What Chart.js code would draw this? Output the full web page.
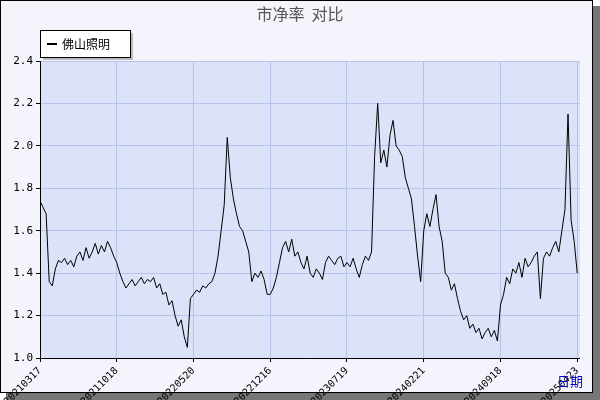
<!DOCTYPE html>
<html><head><meta charset="utf-8">
<script src="https://cdn.jsdelivr.net/npm/chart.js@4"></script>
<style>body{margin:0;background:#fff}#w{width:600px;height:400px;position:relative}</style>
</head><body><div id="w"><canvas id="c" width="600" height="400"></canvas></div>
<script>
const tickLabels=["20210317","20211018","20220520","20221216","20230719","20240221","20240918","20250423"];
const yTicks=[1.0,1.2,1.4,1.6,1.8,2.0,2.2,2.4];
const seriesName="佛山照明";
const pbValues=[
1.74,1.71,1.68,1.36,1.34,1.42,1.46,1.45,1.47,1.44,1.46,1.43,1.48,1.50,1.46,1.52,1.47,1.50,1.54,1.49,1.53,1.50,1.55,1.52,1.48,
1.45,1.40,1.36,1.33,1.35,1.37,1.34,1.36,1.38,1.35,1.37,1.36,1.38,1.33,1.35,1.30,1.31,1.25,1.27,1.20,1.15,1.18,1.10,1.05,1.28,
1.30,1.32,1.31,1.34,1.33,1.35,1.36,1.40,1.48,1.60,1.72,2.04,1.85,1.75,1.68,1.62,1.60,1.55,1.50,1.36,1.40,1.38,1.41,1.37,1.30,
1.30,1.33,1.38,1.45,1.52,1.55,1.50,1.56,1.48,1.50,1.45,1.42,1.48,1.40,1.38,1.42,1.40,1.37,1.45,1.48,1.46,1.44,1.47,1.48,1.43,
1.45,1.43,1.47,1.42,1.38,1.44,1.48,1.46,1.50,1.95,2.20,1.92,1.98,1.90,2.05,2.12,2.00,1.98,1.95,1.85,1.80,1.75,1.62,1.48,1.36,
1.60,1.68,1.62,1.70,1.77,1.62,1.55,1.40,1.38,1.32,1.35,1.28,1.22,1.18,1.20,1.14,1.16,1.12,1.14,1.09,1.12,1.14,1.10,1.13,1.08,
1.25,1.30,1.38,1.35,1.42,1.40,1.45,1.38,1.47,1.43,1.45,1.48,1.50,1.28,1.47,1.50,1.48,1.52,1.55,1.50,1.60,1.70,2.15,1.65,1.55,
1.40];
const step=25;
const pts=pbValues.map((v,i)=>({x:i,y:v}));
const deco={id:'deco',
 beforeDraw(ch){const c=ch.ctx,a=ch.chartArea;c.save();
  c.fillStyle='#fff';c.fillRect(0,0,600,400);
  c.fillStyle='#777';c.fillRect(6,6,594,394);
  c.fillStyle='#f4f5fc';c.fillRect(0,0,593,393);
  c.strokeStyle='#000';c.lineWidth=1;c.strokeRect(0.5,0.5,592,392);
  c.fillStyle='#dce2f7';c.fillRect(a.left,a.top,a.right-a.left,a.bottom-a.top);
  c.restore();},
 afterDraw(ch){const c=ch.ctx,a=ch.chartArea;c.save();
  c.strokeStyle='#000';c.lineWidth=1;c.beginPath();c.moveTo(a.left+0.5,a.top);c.lineTo(a.left+0.5,a.bottom+0.5);c.lineTo(a.right,a.bottom+0.5);c.stroke();
  c.fillStyle='#555';c.font='16px "Noto Sans CJK SC"';c.textAlign='center';c.textBaseline='middle';c.fillText('市净率  对比',300,14);
  c.fillStyle='#bbb';c.fillRect(43,33,90,27);
  c.fillStyle='#fff';c.fillRect(40,30,90,27);c.strokeStyle='#000';c.strokeRect(40.5,30.5,90,27);
  c.fillStyle='#000';c.fillRect(47,43,10,2);
  c.font='12px "Noto Sans CJK SC"';c.textAlign='left';c.fillText(seriesName,62,44);
  c.fillStyle='#0000cc';c.font='13px "Noto Sans CJK SC"';c.textAlign='left';c.fillText('日期',557,381);
  c.restore();}};
new Chart(document.getElementById('c'),{type:'line',
 data:{datasets:[{label:seriesName,data:pts,borderColor:'#000',borderWidth:1,pointRadius:0,tension:0,fill:false}]},
 plugins:[deco],
 options:{responsive:false,animation:false,events:[],
  layout:{padding:{top:61,right:20,left:0,bottom:0}},
  plugins:{legend:{display:false},tooltip:{enabled:false}},
  scales:{
   x:{type:'linear',min:0,max:pbValues.length-1+0.9,afterFit(s){s.height=42;},
    afterBuildTicks(s){s.ticks=tickLabels.map((l,i)=>({value:i*step}));},
    grid:{color:'#b7c3ea',drawTicks:true,tickLength:4,tickColor:'#000'},border:{display:false},
    ticks:{autoSkip:false,maxRotation:45,minRotation:45,color:'#000',font:{family:'DejaVu Sans Mono',size:10},
     callback:(v)=>tickLabels[Math.round(v/step)]}},
   y:{min:1.0,max:2.4,afterFit(s){s.width=40;},
    afterBuildTicks(s){s.ticks=yTicks.map(v=>({value:v}));},
    grid:{color:'#b7c3ea',tickLength:4,tickColor:'#000'},border:{display:false},
    ticks:{color:'#000',font:{family:'DejaVu Sans Mono',size:11},callback:v=>v.toFixed(1)}}
  }}});
</script></body></html>
